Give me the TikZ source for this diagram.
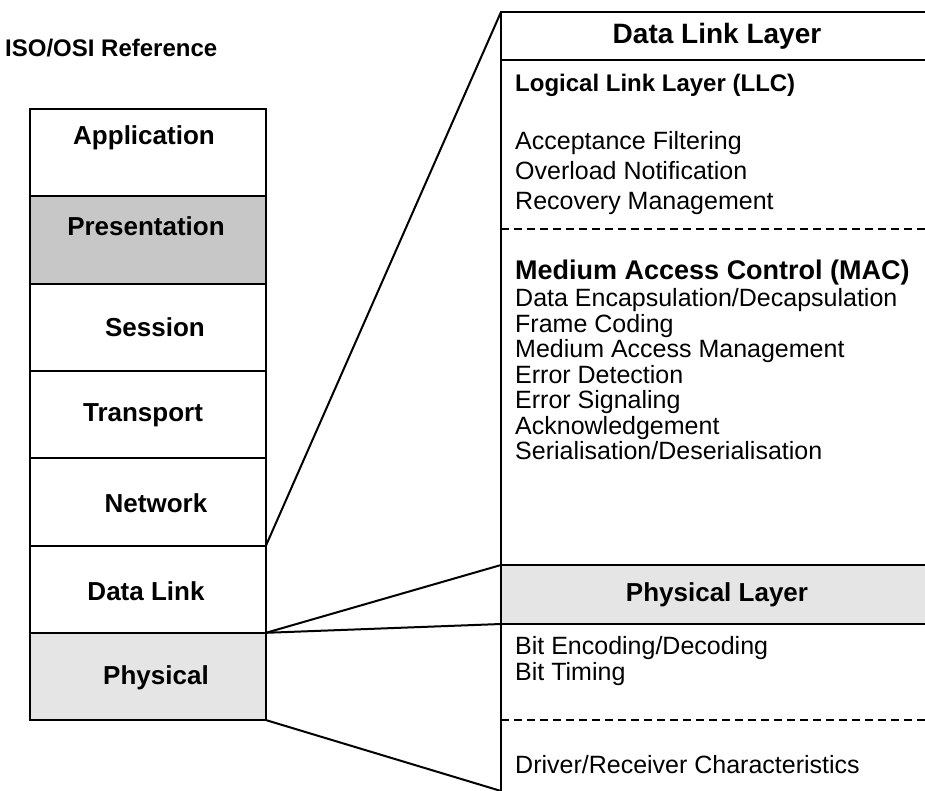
\documentclass[tikz,border=0pt]{standalone}
\usepackage{fontspec}
\setmainfont{Liberation Sans}
\begin{document}
\begin{tikzpicture}[x=1pt,y=-1pt,
  layer/.style={draw, line width=2pt, minimum width=236pt, minimum height=87.3pt, anchor=north west, inner sep=0pt, outer sep=0pt},
  lbl/.style={font=\fontsize{26}{30}\selectfont\bfseries, inner sep=0pt},
  item/.style={font=\fontsize{25}{30}\selectfont, anchor=west, inner sep=0pt, text height=18pt, text depth=5pt},
  rule/.style={line width=2pt},
  dashrule/.style={line width=1.5pt, dash pattern=on 8pt off 5pt},
  conn/.style={line width=2pt, line cap=round}
]
\useasboundingbox (0,0) rectangle (925,791);

% title
\node[font=\fontsize{24}{28}\selectfont\bfseries, anchor=west, inner sep=0pt] (title) at (5,48) {ISO/OSI Reference};

% left stack
\node[layer] (app)  at (30,109.0) {};
\node[layer, fill=black!22] (pres) at (30,196.3) {};
\node[layer] (sess) at (30,283.6) {};
\node[layer] (trans) at (30,370.9) {};
\node[layer] (net)  at (30,458.2) {};
\node[layer] (dll)  at (30,545.5) {};
\node[layer, fill=black!10] (phy)  at (30,632.8) {};

\node[lbl] (tapp)   at (144,138) {Application};
\node[lbl] (tpres)  at (146,226) {Presentation};
\node[lbl] (tsess)  at (155,327) {Session};
\node[lbl] (ttrans) at (143,415) {Transport};
\node[lbl] (tnet)   at (156,503) {Network};
\node[lbl] (tdll)   at (146,591) {Data Link};
\node[lbl] (tphy)   at (156,678) {Physical};

% right box
\coordinate (rtl) at (501,12);
\coordinate (rtr) at (925,12);
\coordinate (rbl) at (501,791);
\coordinate (hdl) at (501,60);
\coordinate (hdr) at (925,60);
\coordinate (d1l) at (501,229);
\coordinate (d1r) at (925,229);
\coordinate (d2l) at (501,720);
\coordinate (d2r) at (925,720);

\node[fill=black!10, minimum width=424pt, minimum height=59pt, anchor=north west, inner sep=0pt, outer sep=0pt] (phyband) at (501,565) {};

\draw[rule] (rtr) -- (rtl) -- (rbl);
\draw[rule] (hdl) -- (hdr);
\draw[rule] (phyband.north west) -- (phyband.north east);
\draw[rule] (phyband.south west) -- (phyband.south east);
\draw[dashrule] (d1l) -- (d1r);
\draw[dashrule] (d2l) -- (d2r);

\node[font=\fontsize{28}{32}\selectfont\bfseries, inner sep=0pt] (dllhead) at (717,36) {Data Link Layer};
\node[font=\fontsize{26}{30}\selectfont\bfseries, inner sep=0pt] (phyhead) at (717,595) {Physical Layer};

\node[item, font=\fontsize{24}{28}\selectfont\bfseries] (llc) at (515,85) {Logical Link Layer (LLC)};
\node[item] (i1) at (515,143) {Acceptance Filtering};
\node[item] (i2) at (515,173) {Overload Notification};
\node[item] (i3) at (515,203) {Recovery Management};

\node[item, font=\fontsize{27}{30}\selectfont\bfseries] (mac) at (515,273) {Medium Access Control (MAC)};
\node[item] (m1) at (515,300) {Data Encapsulation/Decapsulation};
\node[item] (m2) at (515,326) {Frame Coding};
\node[item] (m3) at (515,351) {Medium Access Management};
\node[item] (m4) at (515,377) {Error Detection};
\node[item] (m5) at (515,402) {Error Signaling};
\node[item] (m6) at (515,428) {Acknowledgement};
\node[item] (m7) at (515,453) {Serialisation/Deserialisation};

\node[item] (p1) at (515,648) {Bit Encoding/Decoding};
\node[item] (p2) at (515,674) {Bit Timing};
\node[item] (p3) at (515,767) {Driver/Receiver Characteristics};

% connectors
\draw[conn] (dll.north east) -- (rtl);
\draw[conn] (phy.north east) -- (phyband.north west);
\draw[conn] (phy.north east) -- (phyband.south west);
\draw[conn] (phy.south east) -- (rbl);
\end{tikzpicture}
\end{document}
